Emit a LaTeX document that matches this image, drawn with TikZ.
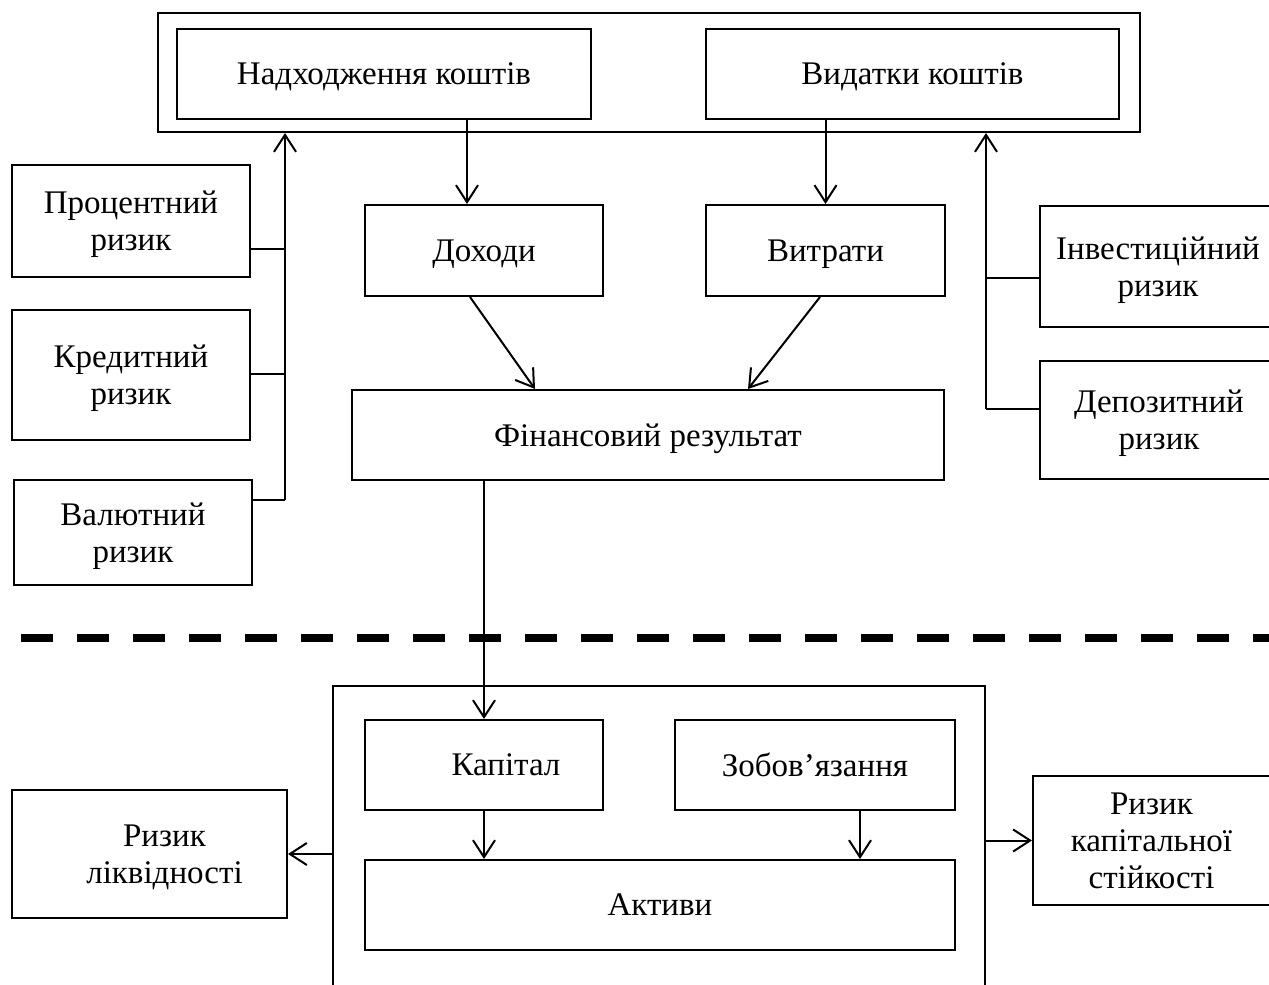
\documentclass[tikz,border=0pt]{standalone}
\usepackage{fontspec}
\setmainfont{Liberation Serif}
\usepackage{tikz}
\usetikzlibrary{arrows.meta}

\tikzset{
	box/.style={draw, line width=1pt, align=center, inner sep=0pt, text depth=0pt},
	arr/.style={line width=1pt, -{Straight Barb[length=8.5pt,width=11pt]}},
	sep/.style={line width=4pt, dash pattern=on 16pt off 12pt}
}

\begin{document}
\begin{tikzpicture}[x=0.5pt, y=-0.5pt, font=\fontsize{16.5}{18.5}\selectfont]

\clip (0,0) rectangle (1269,985);

% cash flows
\node[box, minimum width=491pt, minimum height=59.5pt] (top) at (649,72.5) {};
\node[box, minimum width=207pt, minimum height=45pt] (inflow) at (384,74) {Надходження коштів};
\node[box, minimum width=206.5pt, minimum height=45pt] (outflow) at (912.5,74) {Видатки коштів};

\node[box, minimum width=119pt, minimum height=45.5pt] (income) at (484,250.5) {Доходи};
\node[box, minimum width=119.5pt, minimum height=45.5pt] (expense) at (825.5,250.5) {Витрати};
\node[box, minimum width=296pt, minimum height=45pt] (result) at (648,435) {Фінансовий результат};

% risks, left and right
\node[box, minimum width=119pt, minimum height=56pt] (interest) at (131,221) {Процентний\\ризик};
\node[box, minimum width=119pt, minimum height=65pt] (credit) at (131,375) {Кредитний\\ризик};
\node[box, minimum width=119pt, minimum height=52.5pt] (currency) at (133,532.5) {Валютний\\ризик};
\node[box, minimum width=118pt, minimum height=60.5pt] (invest) at (1158,266.5) {Інвестиційний\\ризик};
\node[box, minimum width=119pt, minimum height=59pt] (deposit) at (1159,420) {Депозитний\\ризик};

\coordinate (lb1) at (285,249);
\coordinate (lb2) at (285,374);
\coordinate (lb3) at (285,500);
\coordinate (rb1) at (986,278);
\coordinate (rb2) at (986,409);

% balance
\node[box, minimum width=326pt, minimum height=162pt] (balance) at (659,848) {};
\node[box, minimum width=119pt, minimum height=45pt] (capital) at (484,765) {\hspace*{22pt}Капітал};
\node[box, minimum width=140pt, minimum height=45pt] (liab) at (815,765) {Зобов’язання};
\node[box, minimum width=295pt, minimum height=45pt] (assets) at (660,905) {Активи};
\node[box, minimum width=137.5pt, minimum height=64pt] (liquid) at (149.5,854) {\hspace*{15pt}Ризик\\\hspace*{15pt}ліквідності};
\node[box, minimum width=118.5pt, minimum height=64.5pt] (stable) at (1151.5,840.5) {Ризик\\капітальної\\стійкості};

\draw[sep] (21,638) -- (1269,638);

\draw[arr] ([xshift=41.5pt]inflow.south) -- ([xshift=-8.5pt]income.north);
\draw[arr] (expense.north |- outflow.south) -- (expense.north);
\draw[arr] ([xshift=-7pt]income.south) -- ([xshift=-56.5pt]result.north);
\draw[arr] ([xshift=-2.75pt]expense.south) -- ([xshift=50pt]result.north);

\draw[line width=1pt] (lb1 -| interest.east) -- (lb1);
\draw[line width=1pt] (lb2 -| credit.east) -- (lb2);
\draw[line width=1pt] (lb3 -| currency.east) -- (lb3);
\draw[arr] (lb3) -- (lb3 |- top.south);

\draw[line width=1pt] (rb1 -| invest.west) -- (rb1);
\draw[line width=1pt] (rb2 -| deposit.west) -- (rb2);
\draw[arr] (rb2) -- (rb2 |- top.south);

\draw[arr] (result.south -| capital.north) -- (capital.north);
\draw[arr] (capital.south) -- (capital.south |- assets.north);
\draw[arr] ([xshift=22.5pt]liab.south) -- ([xshift=22.5pt]liab.south |- assets.north);
\draw[arr] (balance.west |- liquid.east) -- (liquid.east);
\draw[arr] (balance.east |- stable.west) -- (stable.west);

\end{tikzpicture}
\end{document}
